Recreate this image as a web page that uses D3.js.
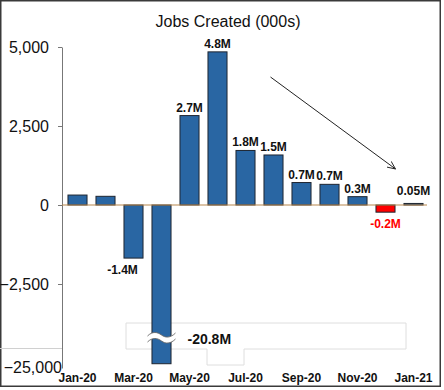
<!DOCTYPE html>
<html>
<head>
<meta charset="utf-8">
<script src="https://cdn.jsdelivr.net/npm/d3@7"></script>
<style>
  html, body { margin: 0; padding: 0; background: #fff; }
  svg { display: block; font-family: "Liberation Sans", Arial, sans-serif; }
</style>
</head>
<body>
<svg id="chart" width="444" height="390"></svg>
<script>
// ---------- data ----------
const title = "Jobs Created (000s)";
const months = ["Jan-20","Feb-20","Mar-20","Apr-20","May-20","Jun-20","Jul-20",
                "Aug-20","Sep-20","Oct-20","Nov-20","Dec-20","Jan-21"];
const jobs = [315, 275, -1680, -20787, 2830, 4846, 1726, 1583, 711, 654, 264, -227, 49];
const barLabels = ["", "", "-1.4M", "", "2.7M", "4.8M", "1.8M", "1.5M", "0.7M", "0.7M", "0.3M", "-0.2M", "0.05M"];
const highlightMonths = ["Dec-20"];
const breakMonth = "Apr-20";
const breakLabel = "-20.8M";
const yTicks = [5000, 2500, 0, -2500, -25000];
const xTickLabels = ["Jan-20","Mar-20","May-20","Jul-20","Sep-20","Nov-20","Jan-21"];
const arrowFrom = { month: "Aug-20", value: 4050 };
const arrowTo = { month: "Dec-20", value: 1140 };

// ---------- layout ----------
const svg = d3.select("#chart");
const axisX = 62;
const BLUE = "#2966a3", RED = "#ff0000";

const x = d3.scaleBand().domain(months).range([63.5, 427.5])
  .paddingInner(0.32).paddingOuter(0.16);
// broken axis: linear 5000 .. -4500, compressed below
const y = d3.scaleLinear().domain([-25000, -4500, 5000]).range([368, 347.2, 47]);

// outer frame
svg.append("rect").attr("x", 0.75).attr("y", 0.75).attr("width", 439.5).attr("height", 385.5)
  .attr("fill", "#fff").attr("stroke", "#3a3a3a").attr("stroke-width", 1.5);

// title
svg.append("text").attr("x", 228).attr("y", 27).attr("text-anchor", "middle")
  .attr("font-size", 16).attr("fill", "#111").text(title);

// break decoration (box + tab), drawn behind bars
const boxTop = 323, boxBot = 349, boxL = 126, boxR = 406, tabL = 207, tabR = 244, tabBot = 365;
svg.append("path")
  .attr("d", `M${tabL},${boxBot} L${boxL},${boxBot} L${boxL},${boxTop} L${boxR},${boxTop} L${boxR},${boxBot} L${tabR},${boxBot} L${tabR},${tabBot} L${tabL},${tabBot} Z`)
  .attr("fill", "#fff").attr("stroke", "#dedede").attr("stroke-width", 1);
svg.append("line").attr("x1", 0).attr("x2", axisX).attr("y1", 348.5).attr("y2", 348.5)
  .attr("stroke", "#d0d0d0").attr("stroke-width", 1);

// y axis
const yAxis = d3.axisLeft(y).tickValues(yTicks).tickFormat(d3.format(","))
  .tickSize(4).tickSizeOuter(0).tickPadding(9);
const gy = svg.append("g").attr("transform", `translate(${axisX},0)`).call(yAxis);
gy.select(".domain").attr("stroke", "#777");
gy.selectAll(".tick line").attr("stroke", "#777");
gy.selectAll(".tick text").attr("font-size", 16).attr("fill", "#111")
  .attr("font-family", "Liberation Sans, Arial, sans-serif");
gy.selectAll(".tick").filter(d => d === -25000).select("line").remove();
gy.selectAll(".tick").filter(d => d === -25000).select("text").attr("x", 0).attr("dy", "0.3em");

// bars
const bars = months.map((m, i) => ({ m, v: jobs[i], label: barLabels[i] }));
svg.append("g").selectAll("rect").data(bars).join("rect")
  .attr("x", d => x(d.m))
  .attr("width", x.bandwidth())
  .attr("y", d => y(Math.max(0, d.v)))
  .attr("height", d => Math.abs(y(d.v) - y(0)))
  .attr("fill", d => highlightMonths.includes(d.m) ? RED : BLUE)
  .attr("stroke", "#1e2530").attr("stroke-width", 1);

// zero line
svg.append("line").attr("x1", axisX).attr("x2", 427).attr("y1", y(0)).attr("y2", y(0))
  .attr("stroke", "#b8874e").attr("stroke-width", 1.2);

// break symbol on the April bar
const bx = x(breakMonth) + x.bandwidth() / 2;
const by = 336;
const wave = (dy) => `M${bx - 14},${by + dy} C${bx - 9},${by + dy - 5} ${bx - 4},${by + dy - 4} ${bx},${by + dy - 1} S${bx + 9},${by + dy + 2} ${bx + 14},${by + dy - 3}`;
svg.append("path")
  .attr("d", wave(0) + ` L${bx + 14},${by + 3} C${bx + 9},${by + 8} ${bx + 4},${by + 8} ${bx},${by + 5} S${bx - 9},${by + 1} ${bx - 14},${by + 6} Z`)
  .attr("fill", "#fff").attr("stroke", "none");
svg.append("path").attr("d", wave(0)).attr("fill", "none").attr("stroke", "#666").attr("stroke-width", 0.9);
svg.append("path").attr("d", wave(6)).attr("fill", "none").attr("stroke", "#666").attr("stroke-width", 0.9);
svg.append("text").attr("x", bx + 26).attr("y", by + 8).attr("font-size", 14)
  .attr("font-weight", "bold").attr("fill", "#111").text(breakLabel);

// bar labels
svg.append("g").selectAll("text").data(bars.filter(d => d.label)).join("text")
  .attr("x", d => x(d.m) + x.bandwidth() / 2 + (d.v < -1000 ? -11 : 0))
  .attr("y", d => d.v >= 0 ? Math.min(y(d.v) - 4, y(0) - 10) : y(d.v) + 16)
  .attr("text-anchor", "middle")
  .attr("font-size", 12).attr("font-weight", "bold")
  .attr("fill", d => highlightMonths.includes(d.m) ? RED : "#111")
  .text(d => d.label);

// x axis labels
svg.append("g").selectAll("text").data(xTickLabels).join("text")
  .attr("x", d => x(d) + x.bandwidth() / 2)
  .attr("y", 382)
  .attr("text-anchor", "middle")
  .attr("font-size", 12).attr("font-weight", "bold").attr("fill", "#111")
  .text(d => d);

// trend arrow
svg.append("defs").append("marker").attr("id", "ah")
  .attr("viewBox", "0 -5 10 10").attr("refX", 9).attr("refY", 0)
  .attr("markerWidth", 9).attr("markerHeight", 9).attr("markerUnits", "userSpaceOnUse")
  .attr("orient", "auto")
  .append("path").attr("d", "M0,-4 L9,0 L0,4").attr("fill", "none").attr("stroke", "#222").attr("stroke-width", 1);
svg.append("line")
  .attr("x1", x(arrowFrom.month) + x.bandwidth() / 2 - 3).attr("y1", y(arrowFrom.value))
  .attr("x2", x(arrowTo.month) + x.bandwidth() / 2 + 10).attr("y2", y(arrowTo.value))
  .attr("stroke", "#222").attr("stroke-width", 1).attr("marker-end", "url(#ah)");
</script>
</body>
</html>
